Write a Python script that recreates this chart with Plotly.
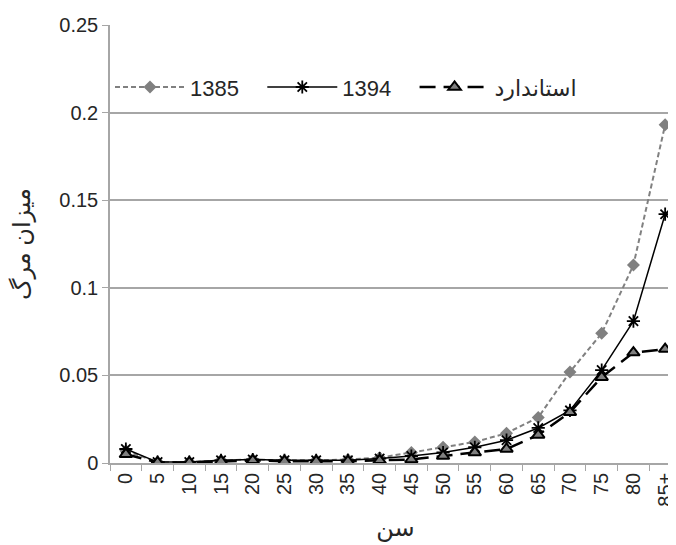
import plotly.graph_objects as go

ages = ["0", "5", "10", "15", "20", "25", "30", "35", "40", "45", "50", "55",
        "60", "65", "70", "75", "80", "85+"]

y1385 = [0.007, 0.0005, 0.0005, 0.0015, 0.002, 0.0015, 0.0015, 0.002, 0.003, 0.006,
         0.009, 0.012, 0.017, 0.026, 0.052, 0.074, 0.113, 0.193]
y1394 = [0.008, 0.0005, 0.0005, 0.0015, 0.002, 0.0015, 0.0015, 0.0015, 0.0025, 0.004,
         0.006, 0.009, 0.013, 0.020, 0.030, 0.053, 0.081, 0.142]
ystd = [0.005, 0.0003, 0.0003, 0.001, 0.0015, 0.001, 0.001, 0.001, 0.0015, 0.002,
        0.004, 0.006, 0.008, 0.016, 0.029, 0.049, 0.063, 0.065]

names = ["1385", "1394", "استاندارد"]

font_family = "Liberation Sans, DejaVu Sans, sans-serif"
txt = "#262626"
pad = "\u00a0" * 3

fig = go.Figure()
fig.add_trace(go.Scatter(
    x=ages, y=y1385, name=names[0] + pad, mode="lines+markers",
    line=dict(color="#808080", width=2, dash="5px,3px"),
    marker=dict(symbol="diamond", size=10, color="#808080"),
))
fig.add_trace(go.Scatter(
    x=ages, y=y1394, name=names[1] + pad, mode="lines+markers",
    line=dict(color="#000000", width=1.5),
    marker=dict(symbol="asterisk-open", size=11, color="#000000",
                line=dict(color="#000000", width=1.8)),
))
fig.add_trace(go.Scatter(
    x=ages, y=ystd, name=names[2], mode="lines+markers",
    line=dict(color="#000000", width=2.5, dash="16px,8px"),
    marker=dict(symbol="triangle-up", size=11, color="#808080",
                line=dict(color="#000000", width=2)),
))

fig.update_layout(
    width=676, height=545,
    margin=dict(l=102, r=3, t=17, b=90),
    paper_bgcolor="white", plot_bgcolor="white",
    font=dict(family=font_family, size=20, color=txt),
    showlegend=True,
    legend=dict(orientation="h", x=0.0, y=0.858, xanchor="left", yanchor="middle",
                font=dict(size=22, color=txt), itemwidth=70,
                bgcolor="rgba(255,255,255,0)"),
    xaxis=dict(
        type="category", range=[-0.5, 17.5], automargin=False,
        tickangle=-90, tickson="boundaries", ticks="outside", ticklen=6,
        tickcolor="#a6a6a6", showline=True, linecolor="#a6a6a6", linewidth=1.5,
        showgrid=False, tickfont=dict(size=20, color=txt),
        title=dict(text="سن", font=dict(size=24, color=txt), standoff=14),
    ),
    yaxis=dict(
        range=[0, 0.25], dtick=0.05, tick0=0, showgrid=True, gridcolor="#a6a6a6",
        gridwidth=1.5, ticks="outside", ticklen=6, tickcolor="#a6a6a6",
        showline=True, linecolor="#a6a6a6", linewidth=1.5, zeroline=False,
        automargin=False, tickfont=dict(size=20, color=txt),
        title=dict(text="میزان مرگ", font=dict(size=24, color=txt), standoff=24),
    ),
)

fig.write_html("out.html")
